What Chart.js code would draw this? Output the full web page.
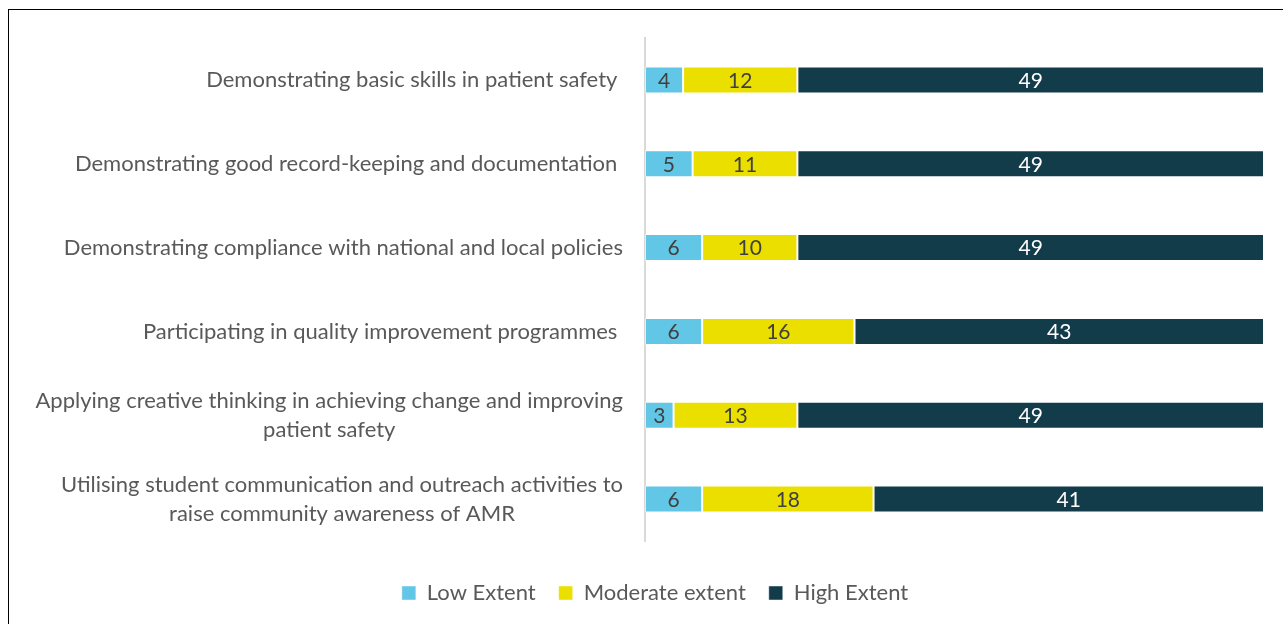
<!DOCTYPE html>
<html>
<head>
<meta charset="utf-8">
<script src="https://cdn.jsdelivr.net/npm/chart.js@4.4.1/dist/chart.umd.min.js"></script>
<style>
  html, body { margin: 0; padding: 0; background: #fff; overflow: hidden; }
  #wrap { position: relative; width: 1283px; height: 624px; }
  #frame { position: absolute; left: 8px; top: 9px; width: 1300px; height: 640px;
           border-left: 1px solid #000; border-top: 1.5px solid #000; box-sizing: border-box; }
  canvas { position: absolute; left: 0; top: 0; }
</style>
</head>
<body>
<div id="wrap">
  <div id="frame"></div>
  <canvas id="chart" width="1283" height="624"></canvas>
</div>
<script>
// Survey items (each label line is an array entry)
const categories = [
  ["Demonstrating basic skills in patient safety "],
  ["Demonstrating good record-keeping and documentation "],
  ["Demonstrating compliance with national and local policies"],
  ["Participating in quality improvement programmes "],
  ["Applying creative thinking in achieving change and improving", "patient safety"],
  ["Utilising student communication and outreach activities to", "raise community awareness of AMR"]
];
const seriesNames = ["Low Extent", "Moderate extent", "High Extent"];
const lowExtent = [4, 5, 6, 6, 3, 6];
const moderateExtent = [12, 11, 10, 16, 13, 18];
const highExtent = [49, 49, 49, 43, 49, 41];

const colors = ["#62c6e6", "#ebdf00", "#133c4b"];
const valueColors = ["#404040", "#404040", "#ffffff"];
const FONT = "Lato, 'Open Sans', sans-serif";

// Category labels: block right-aligned beside the axis, lines centred within the block
const categoryLabels = {
  id: "categoryLabels",
  afterDraw(chart) {
    const ctx = chart.ctx;
    const y = chart.scales.y;
    const right = y.right - 22;
    const lineH = 29;
    ctx.save();
    ctx.font = "22px " + FONT;
    ctx.fillStyle = "#595959";
    ctx.textBaseline = "middle";
    ctx.textAlign = "center";
    categories.forEach((lines, i) => {
      const cy = y.getPixelForValue(i);
      const blockW = Math.max(...lines.map(l => ctx.measureText(l).width));
      const cx = right - blockW / 2;
      lines.forEach((l, k) => {
        const ly = cy + (k - (lines.length - 1) / 2) * lineH;
        ctx.fillText(l, cx, ly);
      });
    });
    ctx.restore();
  }
};

// Value labels centred in each bar segment
const valueLabels = {
  id: "valueLabels",
  afterDatasetsDraw(chart) {
    const ctx = chart.ctx;
    ctx.save();
    ctx.font = "21px " + FONT;
    ctx.textAlign = "center";
    ctx.textBaseline = "middle";
    chart.data.datasets.forEach((ds, di) => {
      chart.getDatasetMeta(di).data.forEach((bar, i) => {
        const p = bar.getProps(["x", "y", "base"], true);
        ctx.fillStyle = valueColors[di];
        ctx.fillText(String(ds.data[i]), (p.x + p.base) / 2, p.y + 1);
      });
    });
    ctx.restore();
  }
};

const seriesData = [lowExtent, moderateExtent, highExtent];

new Chart(document.getElementById("chart"), {
  type: "bar",
  data: {
    labels: categories.map(c => c.join(" ")),
    datasets: seriesNames.map((name, i) => ({
      label: name,
      data: seriesData[i],
      backgroundColor: colors[i],
      borderColor: "rgba(255,255,255,0.45)",
      borderWidth: 1,
      borderSkipped: false,
      categoryPercentage: 0.322,
      barPercentage: 1
    }))
  },
  options: {
    indexAxis: "y",
    responsive: false,
    animation: false,
    devicePixelRatio: 1,
    layout: { padding: { left: 46, right: 19, top: 38, bottom: 10 } },
    scales: {
      x: {
        stacked: true, min: 0, max: 65,
        grid: { display: false, drawTicks: false },
        border: { display: false },
        ticks: { display: false },
        afterFit(scale) { scale.height = 18; }
      },
      y: {
        stacked: true,
        grid: { display: false, drawTicks: false },
        border: { display: true, color: "#d9d9d9", width: 2 },
        ticks: { display: false },
        afterFit(scale) { scale.width = 599; }
      }
    },
    plugins: {
      tooltip: { enabled: false },
      legend: {
        position: "bottom",
        labels: {
          font: { family: FONT, size: 22 },
          color: "#595959",
          boxWidth: 14,
          boxHeight: 14,
          padding: 23
        }
      }
    }
  },
  plugins: [categoryLabels, valueLabels]
});
</script>
</body>
</html>
